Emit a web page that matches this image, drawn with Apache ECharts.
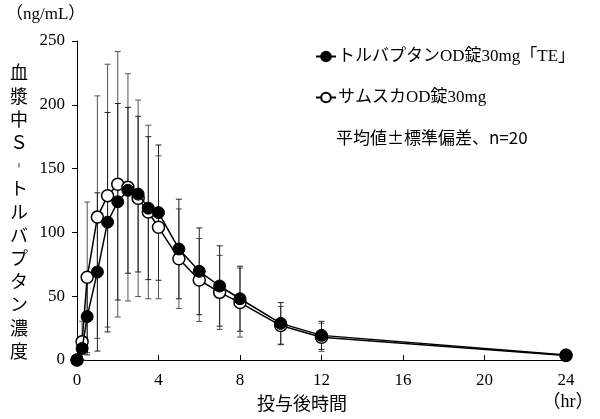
<!DOCTYPE html>
<html>
<head>
<meta charset="utf-8">
<script src="https://cdn.jsdelivr.net/npm/echarts@6/dist/echarts.min.js"></script>
<style>
  html, body { margin: 0; padding: 0; background: #fff; }
  #chart { width: 600px; height: 419px; }
</style>
</head>
<body>
<div id="chart"></div>
<script>
// 時間 (hr)
const times = [0, 0.25, 0.5, 1, 1.5, 2, 2.5, 3, 3.5, 4, 5, 6, 7, 8, 10, 12, 24];
// トルバプタンOD錠30mg「TE」 平均値 / 標準偏差
const teMean = [0, 9, 34, 69, 108, 124, 133, 130, 119, 115.5, 87, 69.5, 58, 48, 28.7, 19.3, 4];
const teSd   = [0, 3, 30, 62, 86, 77, 65, 61, 56, 53, 39, 34, 31.5, 25.5, 16.3, 11, 1.5];
// サムスカOD錠30mg 平均値 / 標準偏差
const odMean = [0, 14.4, 64.8, 112, 128.8, 137.7, 135.3, 126.7, 116, 104, 79.4, 62.7, 53, 45, 27, 17.8, 3.5];
const odSd   = [0, 16, 59, 95, 103, 104, 89, 77, 68, 56, 39, 32.5, 29, 27, 15, 11, 1];
const xTicks = [0, 4, 8, 12, 16, 20, 24];
const yTitle = ['血', '漿', '中', 'Ｓ', '︲', 'ト', 'ル', 'バ', 'プ', 'タ', 'ン', '濃', '度'];

const FONT = '"Liberation Serif", "Noto Sans CJK JP", serif';
const JP = '"Noto Sans CJK JP", sans-serif';
const pair = (xs, ys) => xs.map((x, i) => [x, ys[i]]);
const errData = (m, s) => times.map((t, i) => [t, Math.max(0, m[i] - s[i]), m[i] + s[i]]);

function errBar(color) {
  return function (params, api) {
    const lo = api.coord([api.value(0), api.value(1)]);
    const hi = api.coord([api.value(0), api.value(2)]);
    const w = 3;
    const st = { stroke: color, lineWidth: 1 };
    return {
      type: 'group',
      children: [
        { type: 'line', shape: { x1: hi[0], y1: hi[1], x2: lo[0], y2: lo[1] }, style: st },
        { type: 'line', shape: { x1: hi[0] - w, y1: hi[1], x2: hi[0] + w, y2: hi[1] }, style: st },
        { type: 'line', shape: { x1: lo[0] - w, y1: lo[1], x2: lo[0] + w, y2: lo[1] }, style: st }
      ]
    };
  };
}

let myChart = echarts.init(document.getElementById('chart'));

const option = {
  animation: false,
  textStyle: { fontFamily: FONT },
  grid: { left: 77, right: 34, top: 41, bottom: 59 },
  legend: {
    orient: 'vertical',
    left: 310,
    top: 43,
    itemGap: 24,
    itemWidth: 20,
    itemHeight: 12,
    textStyle: { fontFamily: FONT, fontSize: 17, color: '#000', padding: [0, 0, 0, -3] },
    data: ['トルバプタンOD錠30mg「TE」', 'サムスカOD錠30mg']
  },
  xAxis: {
    type: 'value',
    min: 0,
    max: 24,
    interval: 4,
    axisLine: { lineStyle: { color: '#000', width: 1 } },
    axisTick: { inside: true, length: 5, lineStyle: { color: '#000' } },
    axisLabel: {
      fontFamily: FONT, fontSize: 17, color: '#000', margin: 12,
      customValues: xTicks
    },
    splitLine: { show: false }
  },
  yAxis: {
    type: 'value',
    min: 0,
    max: 250,
    interval: 50,
    axisLine: { show: true, lineStyle: { color: '#000', width: 1 } },
    axisTick: { show: true, length: 5, lineStyle: { color: '#000' } },
    axisLabel: { fontFamily: FONT, fontSize: 17, color: '#000', margin: 12 },
    splitLine: { show: false }
  },
  graphic: [
    { type: 'text', left: 6, top: 6,
      style: { text: '（ng/mL）', font: '17px ' + FONT, fill: '#000' } },
    { type: 'text', x: 19, y: 61,
      style: { text: yTitle.join('\n'), font: '18px ' + JP,
               fill: '#000', align: 'center', lineHeight: 23.2 } },
    { type: 'text', x: 302, y: 394,
      style: { text: '投与後時間', font: '18px ' + JP, fill: '#000', align: 'center' } },
    { type: 'text', x: 568, y: 393,
      style: { text: '（hr）', font: '18px ' + FONT, fill: '#000', align: 'center' } },
    { type: 'text', left: 336, top: 129,
      style: { text: '平均値±標準偏差、n=20', font: '17px ' + JP, fill: '#000' } }
  ],
  series: [
    {
      type: 'custom', name: 'odErr', renderItem: errBar('#555'),
      encode: { x: 0, y: [1, 2] }, data: errData(odMean, odSd), z: 1, silent: true
    },
    {
      type: 'custom', name: 'teErr', renderItem: errBar('#222'),
      encode: { x: 0, y: [1, 2] }, data: errData(teMean, teSd), z: 1, silent: true
    },
    {
      name: 'サムスカOD錠30mg',
      type: 'line',
      data: pair(times, odMean),
      symbol: 'circle',
      symbolSize: 12,
      lineStyle: { color: '#000', width: 1.5 },
      itemStyle: { color: '#fff', borderColor: '#000', borderWidth: 1.5 },
      z: 3
    },
    {
      name: 'トルバプタンOD錠30mg「TE」',
      type: 'line',
      data: pair(times, teMean),
      symbol: 'circle',
      symbolSize: 12,
      lineStyle: { color: '#000', width: 1.5 },
      itemStyle: { color: '#000', borderColor: '#000', borderWidth: 1 },
      z: 4
    }
  ]
};

myChart.setOption(option);
window.onresize = function () {
  myChart.resize();
};
</script>
</body>
</html>
